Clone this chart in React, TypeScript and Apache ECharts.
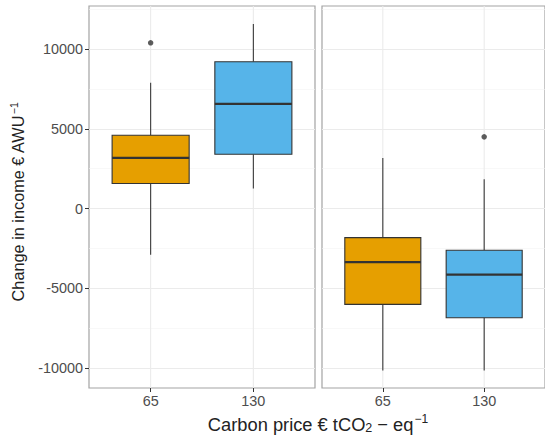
import React, { useEffect, useRef } from "react";
import * as echarts from "echarts";

const categories = ["65", "130"];

// Left panel box statistics
const leftLower = [-2890, 1255];
const leftQ1 = [1570, 3409];
const leftMedian = [3176, 6566];
const leftQ3 = [4600, 9203];
const leftUpper = [7885, 11570];
const leftOutliers = [{ category: "65", value: 10395 }];

// Right panel box statistics
const rightLower = [-10150, -10150];
const rightQ1 = [-6008, -6842];
const rightMedian = [-3352, -4143];
const rightQ3 = [-1820, -2618];
const rightUpper = [3176, 1839];
const rightOutliers = [{ category: "130", value: 4495 }];

const yMajorTicks = [-10000, -5000, 0, 5000, 10000];
const yMinorTicks = [-7500, -2500, 2500, 7500, 12500];
const yMin = -11250;
const yMax = 12700;

const fillColors = ["#E69F00", "#56B4E9"];
const FONT = "Liberation Sans, Arial, Helvetica, sans-serif";

function boxData(lo: number[], q1: number[], med: number[], q3: number[], hi: number[]) {
  return categories.map((c, i) => [i + 1, lo[i], q1[i], med[i], q3[i], hi[i]]);
}
function outlierData(list: { category: string; value: number }[]) {
  return list.map((o) => [categories.indexOf(o.category) + 1, o.value]);
}

const renderBox = (params: any, api: any) => {
  const x = api.value(0);
  const lo = api.coord([x, api.value(1)]);
  const q1 = api.coord([x, api.value(2)]);
  const med = api.coord([x, api.value(3)]);
  const q3 = api.coord([x, api.value(4)]);
  const hi = api.coord([x, api.value(5)]);
  const w = api.size([0.75, 0])[0];
  const fill = fillColors[params.dataIndex % fillColors.length];
  const whisker = { stroke: "#3a3a3a", lineWidth: 1.1 };
  return {
    type: "group",
    children: [
      { type: "line", shape: { x1: lo[0], y1: lo[1], x2: q1[0], y2: q1[1] }, style: whisker },
      { type: "line", shape: { x1: q3[0], y1: q3[1], x2: hi[0], y2: hi[1] }, style: whisker },
      {
        type: "rect",
        shape: { x: q3[0] - w / 2, y: q3[1], width: w, height: q1[1] - q3[1] },
        style: { fill, stroke: "#333333", lineWidth: 1.1 },
      },
      {
        type: "line",
        shape: { x1: med[0] - w / 2, y1: med[1], x2: med[0] + w / 2, y2: med[1] },
        style: { stroke: "#333333", lineWidth: 2.3 },
      },
    ],
  };
};

// vertical major grid line at each category position
const renderVGrid = (params: any, api: any) => {
  const x = api.value(0);
  const top = api.coord([x, yMax]);
  const bottom = api.coord([x, yMin]);
  return {
    type: "line",
    shape: { x1: top[0], y1: top[1], x2: bottom[0], y2: bottom[1] },
    style: { stroke: "#ebebeb", lineWidth: 1.1 },
  };
};

export default function App() {
  const ref = useRef<HTMLDivElement>(null);
  useEffect(() => {
    if (!ref.current) return;
    const chart = echarts.init(ref.current, undefined, { renderer: "svg" });

    const grids = [
      { left: 89, top: 6, width: 226, height: 382 },
      { left: 322, top: 6, width: 226, height: 382 },
    ].map((g) => ({
      ...g,
      show: true,
      borderColor: "#a3a3a3",
      borderWidth: 1.2,
      backgroundColor: "transparent",
      containLabel: false,
    }));

    const xAxes = [0, 1].map((i) => ({
      type: "value",
      gridIndex: i,
      min: 0.4,
      max: 2.6,
      position: "bottom",
      axisLine: { show: false, onZero: false },
      splitLine: { show: false },
      axisTick: {
        show: true,
        customValues: [1, 2],
        length: 4,
        lineStyle: { color: "#333333", width: 1 },
      },
      axisLabel: {
        show: true,
        customValues: [1, 2],
        formatter: (v: number) => categories[Math.round(v) - 1] ?? "",
        color: "#4d4d4d",
        fontSize: 14.4,
        fontFamily: FONT,
        margin: 6,
      },
    }));

    const yAxes = [0, 1].map((i) => ({
      type: "value",
      gridIndex: i,
      min: yMin,
      max: yMax,
      axisLine: { show: false, onZero: false },
      splitLine: { show: true, lineStyle: { color: "#ebebeb", width: 1.1 } },
      axisTick: {
        show: i === 0,
        customValues: yMajorTicks,
        length: 4,
        lineStyle: { color: "#333333", width: 1 },
      },
      axisLabel: {
        show: i === 0,
        customValues: yMajorTicks,
        formatter: (v: number) => String(Math.round(v)),
        color: "#4d4d4d",
        fontSize: 14.4,
        fontFamily: FONT,
        margin: 6,
      },
    }));

    const minorLineSeries = [0, 1].map((i) => ({
      type: "line",
      xAxisIndex: i,
      yAxisIndex: i,
      data: [],
      z: 0,
      silent: true,
      markLine: {
        silent: true,
        z: 0,
        symbol: "none",
        animation: false,
        label: { show: false },
        data: yMinorTicks.map((v) => ({ yAxis: v, lineStyle: { color: "#f4f4f4", width: 0.6, type: "solid" } })),
      },
    }));

    const vGridSeries = [0, 1].map((i) => ({
      type: "custom",
      xAxisIndex: i,
      yAxisIndex: i,
      z: 1,
      silent: true,
      renderItem: renderVGrid,
      encode: { x: 0 },
      data: categories.map((c, k) => [k + 1]),
    }));

    const boxSeries = [
      { data: boxData(leftLower, leftQ1, leftMedian, leftQ3, leftUpper), idx: 0 },
      { data: boxData(rightLower, rightQ1, rightMedian, rightQ3, rightUpper), idx: 1 },
    ].map((s) => ({
      type: "custom",
      xAxisIndex: s.idx,
      yAxisIndex: s.idx,
      z: 10,
      renderItem: renderBox,
      encode: { x: 0, y: [1, 2, 3, 4, 5] },
      data: s.data,
    }));

    const outlierSeries = [
      { data: outlierData(leftOutliers), idx: 0 },
      { data: outlierData(rightOutliers), idx: 1 },
    ].map((s) => ({
      type: "scatter",
      xAxisIndex: s.idx,
      yAxisIndex: s.idx,
      z: 11,
      symbol: "circle",
      symbolSize: 5.5,
      itemStyle: { color: "#333333" },
      data: s.data,
    }));

    chart.setOption({
      animation: false,
      backgroundColor: "#ffffff",
      grid: grids,
      xAxis: xAxes,
      yAxis: yAxes,
      series: [...minorLineSeries, ...vGridSeries, ...boxSeries, ...outlierSeries],
      graphic: [
        {
          type: "text",
          x: 18,
          y: 202,
          rotation: Math.PI / 2,
          style: {
            text: "Change in income € AWU{sup|−1}",
            fill: "#222222",
            fontSize: 16.3,
            fontFamily: FONT,
            align: "center",
            verticalAlign: "middle",
            rich: {
              sup: { fontSize: 10.5, fontFamily: FONT, fill: "#222222", padding: [0, 0, 9, 1] },
            },
          },
        },
        {
          type: "text",
          x: 318,
          y: 424,
          style: {
            text: "Carbon price € tCO{sub|2} − eq{sup|−1}",
            fill: "#222222",
            fontSize: 18.3,
            fontFamily: FONT,
            align: "center",
            verticalAlign: "middle",
            rich: {
              sub: { fontSize: 12.5, fontFamily: FONT, fill: "#222222", padding: [8, 0, 0, 0] },
              sup: { fontSize: 12, fontFamily: FONT, fill: "#222222", padding: [0, 0, 10, 1] },
            },
          },
        },
      ],
    });
    return () => chart.dispose();
  }, []);
  return (
    <div
      ref={ref}
      style={{ position: "fixed", left: 0, top: 0, width: 545, height: 437, background: "#fff" }}
    />
  );
}
